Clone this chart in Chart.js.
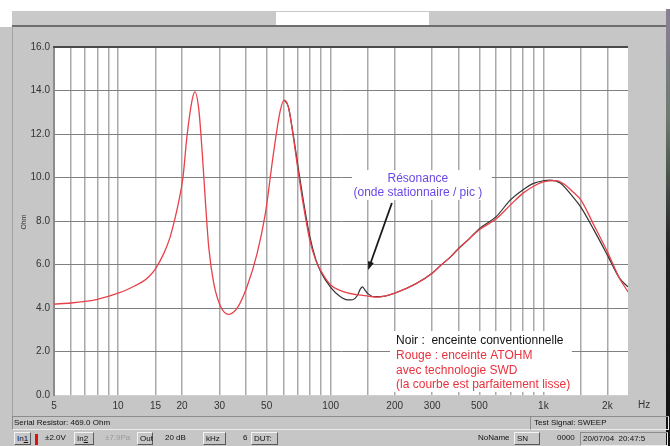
<!DOCTYPE html>
<html>
<head>
<meta charset="utf-8">
<script src="https://cdn.jsdelivr.net/npm/chart.js@4.4.1/dist/chart.umd.min.js"></script>
<style>
  body { margin: 0; width: 670px; height: 446px; overflow: hidden; background: #fff; position: relative;
         font-family: "Liberation Sans", Arial, sans-serif; }
  .abs { position: absolute; }
  #topbar { left: 12px; top: 11px; width: 654px; height: 14px; background: #c9c9c9; }
  #topwhite { left: 276px; top: 12px; width: 153px; height: 13px; background: #fff; }
  #topline { left: 12px; top: 25px; width: 654px; height: 2px; background: #6e6e6e; }
  #panel { left: 0; top: 27px; width: 666px; height: 419px; background: #c6c6c6; }
  #edge { left: 12px; top: 27px; width: 1px; height: 389px; background: #a2a2a2; }
  #strip { left: 666px; top: 9px; width: 4px; height: 437px;
           background: linear-gradient(#8a7f95, #6d7a70 25%, #222 55%, #111); }
  canvas { position: absolute; left: 0; top: 0; }
  .row { font-size: 8px; color: #111; line-height: 12px; white-space: nowrap; }
  .sunk { border: 1px solid; border-color: #8c8c8c #ececec #ececec #8c8c8c; height: 12px; }
  .btn { border: 1px solid; border-color: #f4f4f4 #5a5a5a #5a5a5a #f4f4f4; height: 11px; padding: 0 2px;
         background: #c6c6c6; line-height: 11px; }
</style>
</head>
<body>
<div class="abs" id="panel"></div>
<div class="abs" id="topbar"></div>
<div class="abs" id="topwhite"></div>
<div class="abs" id="topline"></div>
<div class="abs" id="edge"></div>
<div class="abs" id="strip"></div>
<canvas id="chart" width="670" height="446"></canvas>

<!-- status rows of the measuring program -->
<div class="abs row sunk" style="left:12px;top:416px;width:516px;padding-left:1px;">Serial Resistor: 469.0 Ohm</div>
<div class="abs row sunk" style="left:530px;top:416px;width:134px;padding-left:3px;">Test Signal: SWEEP</div>
<div class="abs row btn" style="left:14px;top:432px;">In<u>1</u></div>
<div class="abs" style="left:35px;top:434px;width:3px;height:11px;background:#e01010;"></div>
<div class="abs row" style="left:45px;top:432px;">±2.0V</div>
<div class="abs row btn" style="left:74px;top:432px;width:14px;">In<u>2</u></div>
<div class="abs row" style="left:105px;top:432px;color:#9a9a9a;">±7.9Pa</div>
<div class="abs row btn" style="left:137px;top:432px;width:10px;">Out</div>
<div class="abs row" style="left:165px;top:432px;">20 dB</div>
<div class="abs row btn" style="left:203px;top:432px;width:17px;">kHz</div>
<div class="abs row" style="left:243px;top:432px;">6</div>
<div class="abs row btn" style="left:251px;top:432px;width:21px;">DUT:</div>
<div class="abs row" style="left:478px;top:432px;">NoName</div>
<div class="abs row btn" style="left:514px;top:432px;width:20px;">SN</div>
<div class="abs row" style="left:557px;top:432px;">0000</div>
<div class="abs row sunk" style="left:580px;top:432px;width:84px;padding-left:2px;height:12px;">20/07/04&nbsp; 20:47:5</div>

<script>
// red = ATOHM SWD enclosure, black = conventional enclosure (Hz / Ohm)
const redFreq = [5, 6, 7, 8, 9, 10, 11, 12, 13, 14, 15, 16.4, 17.5, 18.3, 19.3, 20.2, 21.1, 22.3, 23, 24, 24.9,
  25.8, 26.7, 28.2, 30.4, 33.2, 36.3, 40.4, 45.1, 49.3, 53.8, 58, 60.4, 63.2, 66.7, 70.2, 74.2, 79.7, 85, 90,
  100, 110, 120, 135, 150, 165, 180, 200, 250, 300, 330, 366, 400, 450, 500, 600, 700, 800, 900, 1000,
  1150, 1250, 1380, 1500, 1730, 2000, 2280, 2500];
const redOhm = [4.18, 4.23, 4.30, 4.40, 4.53, 4.68, 4.84, 5.02, 5.2, 5.45, 5.8, 6.5, 7.2, 7.9, 8.9, 10.0, 11.9,
  13.56, 13.94, 13.1, 11.1, 8.8, 6.8, 5.13, 4.06, 3.71, 3.99, 4.98, 6.51, 8.35, 11.1, 13.1, 13.56, 13.26, 11.88,
  10.34, 8.8, 7.13, 6.2, 5.7, 5.06, 4.82, 4.69, 4.6, 4.55, 4.5, 4.55, 4.68, 5.1, 5.6, 5.97, 6.35, 6.73, 7.2, 7.6,
  8.1, 8.74, 9.27, 9.6, 9.8, 9.86, 9.7, 9.33, 8.97, 7.8, 6.58, 5.37, 4.74];

const blackFreq = [60.4, 63.2, 66.7, 70.2, 74.2, 79.7, 85, 90, 100, 110, 120, 127, 133, 138, 141, 145, 150, 160,
  180, 200, 250, 300, 330, 366, 400, 450, 500, 600, 700, 800, 900, 1000, 1080, 1200, 1380, 1500, 1730, 2000,
  2280, 2500];
const blackOhm = [13.56, 13.26, 11.95, 10.5, 9.0, 7.3, 6.25, 5.65, 4.95, 4.55, 4.37, 4.38, 4.55, 4.88, 4.97, 4.82,
  4.65, 4.52, 4.55, 4.68, 5.1, 5.6, 5.97, 6.35, 6.75, 7.2, 7.65, 8.2, 8.97, 9.43, 9.73, 9.85, 9.88, 9.75, 9.1,
  8.64, 7.58, 6.43, 5.37, 4.97];

// frequency grid and the labelled ticks
const gridFreq = [5, 6, 7, 8, 9, 10, 15, 20, 30, 40, 50, 60, 70, 80, 90, 100, 150, 200, 300, 400, 500, 600,
  700, 800, 900, 1000, 1500, 2000];
const xTickValues = [5, 10, 15, 20, 30, 50, 100, 200, 300, 500, 1000, 2000];
const xTickLabels = ['5', '10', '15', '20', '30', '50', '100', '200', '300', '500', '1k', '2k'];

const resonanceNote = ['Résonance', '(onde stationnaire / pic )'];
const legendNote = [
  { text: 'Noir :  enceinte conventionnelle', color: '#111' },
  { text: 'Rouge : enceinte ATOHM', color: '#e8323e' },
  { text: 'avec technologie SWD', color: '#e8323e' },
  { text: '(la courbe est parfaitement lisse)', color: '#e8323e' },
];

const toPoints = (fs, vs) => fs.map((f, i) => ({ x: f, y: vs[i] }));

const notes = {
  id: 'notes',
  beforeDraw(chart) {
    const { ctx, chartArea: a } = chart;
    ctx.save();
    ctx.fillStyle = '#fff';
    ctx.fillRect(a.left, a.top, a.right - a.left, a.bottom - a.top);
    ctx.restore();
  },
  beforeDatasetsDraw(chart) {
    const { ctx, chartArea: a, scales: { x, y } } = chart;
    ctx.save();
    // white boxes the notes sit on
    ctx.fillStyle = '#fff';
    const box = (f1, f2, o1, o2) => {
      const l = x.getPixelForValue(f1), r = x.getPixelForValue(f2);
      const t = y.getPixelForValue(o1), b = y.getPixelForValue(o2);
      ctx.fillRect(l, t, r - l, b - t);
    };
    box(126, 573, 10.34, 8.97);
    box(190, 1361, 2.94, 0.14);
    // heavy top border
    ctx.fillStyle = '#4a4a4a';
    ctx.fillRect(a.left - 1, a.top - 1, a.right - a.left + 1, 2);
    ctx.restore();
  },
  afterDatasetsDraw(chart) {
    const { ctx, chartArea: a, scales: { x, y } } = chart;
    ctx.save();
    // arrow to the standing-wave bump
    const x0 = x.getPixelForValue(194), y0 = y.getPixelForValue(8.83);
    const x1 = x.getPixelForValue(150), y1 = y.getPixelForValue(5.75);
    const ang = Math.atan2(y1 - y0, x1 - x0);
    ctx.strokeStyle = '#1a1a1a';
    ctx.fillStyle = '#1a1a1a';
    ctx.lineWidth = 1.8;
    ctx.beginPath();
    ctx.moveTo(x0, y0);
    ctx.lineTo(x1 - 6 * Math.cos(ang), y1 - 6 * Math.sin(ang));
    ctx.stroke();
    ctx.beginPath();
    ctx.moveTo(x1, y1);
    ctx.lineTo(x1 - 9 * Math.cos(ang - 0.35), y1 - 9 * Math.sin(ang - 0.35));
    ctx.lineTo(x1 - 9 * Math.cos(ang + 0.35), y1 - 9 * Math.sin(ang + 0.35));
    ctx.closePath();
    ctx.fill();

    ctx.font = '12px "Liberation Sans", Arial, sans-serif';
    ctx.textBaseline = 'middle';
    ctx.textAlign = 'center';
    ctx.fillStyle = '#6a48e4';
    const cx = x.getPixelForValue(257);
    ctx.fillText(resonanceNote[0], cx, y.getPixelForValue(9.93));
    ctx.fillText(resonanceNote[1], cx, y.getPixelForValue(9.29));

    ctx.textAlign = 'left';
    const lx = x.getPixelForValue(203);
    const rows = [2.48, 1.82, 1.14, 0.46];
    legendNote.forEach((n, i) => {
      ctx.fillStyle = n.color;
      ctx.fillText(n.text, lx, y.getPixelForValue(rows[i]));
    });

    // unit labels
    ctx.fillStyle = '#333';
    ctx.font = '10px "Liberation Sans", Arial, sans-serif';
    ctx.fillText('Hz', a.right + 10, a.bottom + 10);
    ctx.translate(24, 222);
    ctx.rotate(-Math.PI / 2);
    ctx.textAlign = 'center';
    ctx.font = '7px "Liberation Sans", Arial, sans-serif';
    ctx.fillText('Ohm', 0, 0);
    ctx.restore();
  },
};

const ctx = document.getElementById('chart').getContext('2d');
new Chart(ctx, {
  type: 'line',
  data: {
    datasets: [
      {
        label: 'Rouge : enceinte ATOHM',
        data: toPoints(redFreq, redOhm),
        borderColor: '#e8414a',
        borderWidth: 1.3,
        pointRadius: 0,
        cubicInterpolationMode: 'monotone',
      },
      {
        label: 'Noir : enceinte conventionnelle',
        data: toPoints(blackFreq, blackOhm),
        borderColor: '#333',
        borderWidth: 1.2,
        pointRadius: 0,
        cubicInterpolationMode: 'monotone',
      },
    ],
  },
  options: {
    responsive: false,
    animation: false,
    events: [],
    layout: { padding: { left: 12, top: 47, right: 42, bottom: 33 } },
    plugins: { legend: { display: false }, tooltip: { enabled: false } },
    scales: {
      x: {
        type: 'logarithmic',
        min: 5,
        max: 2500,
        afterBuildTicks: (scale) => { scale.ticks = gridFreq.map(v => ({ value: v })); },
        afterFit: (scale) => { scale.height = 18; },
        grid: { color: '#a9a9a9', lineWidth: 1.5, drawTicks: false },
        border: { color: '#cfcfcf', width: 1 },
        ticks: {
          autoSkip: false,
          maxRotation: 0,
          padding: 5,
          color: '#333',
          font: { family: '"Liberation Sans", Arial, sans-serif', size: 10 },
          callback: (value) => {
            const i = xTickValues.indexOf(value);
            return i >= 0 ? xTickLabels[i] : '';
          },
        },
      },
      y: {
        min: 0,
        max: 16,
        afterFit: (scale) => { scale.width = 42; },
        grid: {
          color: (c) => (c.tick && c.tick.value === 0 ? '#d2d2d2' : '#808080'),
          lineWidth: 1,
          drawTicks: false,
        },
        border: { color: '#8c8c8c', width: 2 },
        ticks: {
          stepSize: 2,
          padding: 4,
          color: '#333',
          font: { family: '"Liberation Sans", Arial, sans-serif', size: 10 },
          callback: (value) => value.toFixed(1),
        },
      },
    },
  },
  plugins: [notes],
});
</script>
</body>
</html>
